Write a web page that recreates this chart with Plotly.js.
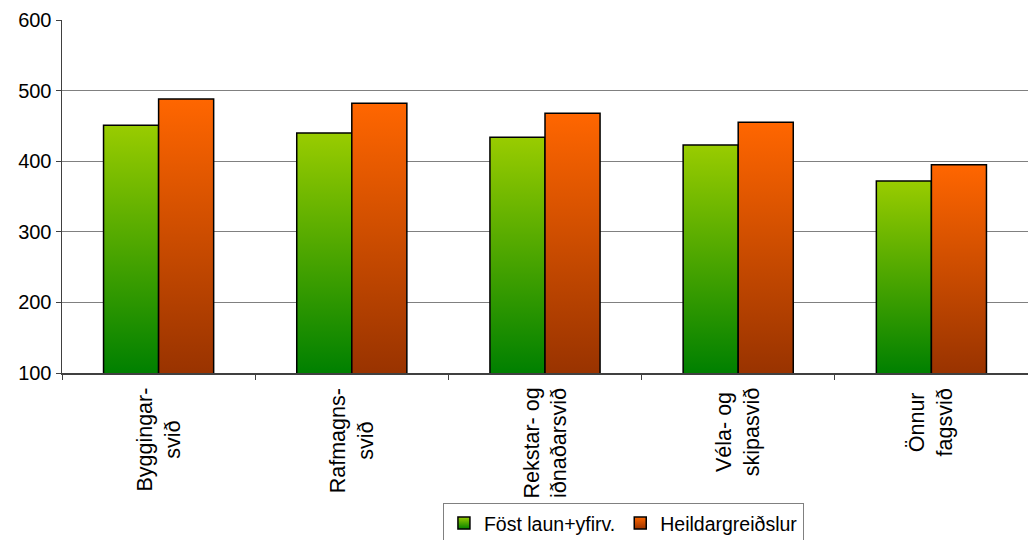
<!DOCTYPE html>
<html>
<head>
<meta charset="utf-8">
<script src="https://cdn.plot.ly/plotly-3.0.1.min.js"></script>
<style>html,body{margin:0;padding:0;background:#fff;}#chart{width:1028px;height:540px;}</style>
</head>
<body>
<div id="chart"></div>
<script>
const categories = ["Byggingarsvið", "Rafmagnssvið", "Rekstar- og iðnaðarsvið", "Véla- og skipasvið", "Önnur fagsvið"];
const categoryLabels = ["Byggingar-<br>svið", "Rafmagns-<br>svið", "Rekstar- og<br>iðnaðarsvið", "Véla- og<br>skipasvið", "Önnur<br>fagsvið"];
const seriesNames = ["Föst laun+yfirv.", "Heildargreiðslur"];
const fostLaun = [451, 440, 434, 423, 372];
const heildar = [488, 482, 468, 455, 395];
const yTicks = [100, 200, 300, 400, 500, 600];

const FONT = "Liberation Sans, Arial, sans-serif";
const gradients = {
  green: ["#99CC00", "#008000"],
  orange: ["#FF6600", "#993300"]
};

const traces = [
  {type: "bar", name: seriesNames[0], x: categories, y: fostLaun,
   marker: {color: "#4CA600", line: {color: "#000", width: 1.5}}},
  {type: "bar", name: seriesNames[1], x: categories, y: heildar,
   marker: {color: "#CC4D00", line: {color: "#000", width: 1.5}}}
];

const annotations = categories.map((c, i) => ({
  x: c, xref: "x", y: 0, yref: "paper", yshift: -13,
  text: categoryLabels[i], showarrow: false, textangle: -90,
  xanchor: "center", yanchor: "top", align: "center",
  font: {family: FONT, size: 21.5, color: "#000"}
}));

const layout = {
  width: 1028, height: 540,
  margin: {l: 62, r: 0, t: 20, b: 167, autoexpand: false},
  paper_bgcolor: "#fff", plot_bgcolor: "#fff",
  barmode: "group", bargap: 0.43, bargroupgap: 0,
  showlegend: true,
  font: {family: FONT, size: 20, color: "#000"},
  xaxis: {type: "category", showline: true, linecolor: "#404040", linewidth: 1.5,
          ticks: "outside", tickson: "boundaries", ticklen: 5, tickcolor: "#404040",
          showticklabels: false, showgrid: false, zeroline: false, fixedrange: true},
  yaxis: {range: [100, 600], tickvals: yTicks, ticks: "outside", ticklen: 5, tickcolor: "#404040",
          showline: true, linecolor: "#404040", linewidth: 1.5,
          gridcolor: "#808080", gridwidth: 1, zeroline: false,
          tickfont: {family: FONT, size: 20, color: "#000"}},
  legend: {orientation: "h", x: 0.5812, xanchor: "center", y: -0.368, yanchor: "top",
           bordercolor: "#808080", borderwidth: 1, bgcolor: "#fff", itemwidth: 30,
           font: {family: FONT, size: 19.5, color: "#000"}, traceorder: "normal"},
  annotations: annotations
};

function applyGradients(gd) {
  const svg = gd.querySelector("svg.main-svg");
  const ns = "http://www.w3.org/2000/svg";
  let defs = svg.querySelector("defs");
  const h = gd._fullLayout._size.h;
  const keys = ["green", "orange"];
  let n = 0;
  function makeGrad(key, units, y1, y2) {
    const g = document.createElementNS(ns, "linearGradient");
    const id = "grad" + (n++);
    g.setAttribute("id", id);
    g.setAttribute("gradientUnits", units);
    g.setAttribute("x1", 0); g.setAttribute("x2", 0);
    g.setAttribute("y1", y1); g.setAttribute("y2", y2);
    [[0, gradients[key][0]], [1, gradients[key][1]]].forEach(([o, c]) => {
      const s = document.createElementNS(ns, "stop");
      s.setAttribute("offset", o); s.setAttribute("stop-color", c);
      g.appendChild(s);
    });
    defs.appendChild(g);
    return id;
  }
  gd.querySelectorAll(".barlayer .trace.bars").forEach((tr, ti) => {
    tr.querySelectorAll(".point path").forEach(p => {
      const b = p.getBBox();
      const id = makeGrad(keys[ti], "userSpaceOnUse", b.y, Math.min(b.y + b.height, h));
      p.style.fill = "url(#" + id + ")";
    });
  });
  gd.querySelectorAll(".legend .traces").forEach((tr, ti) => {
    tr.querySelectorAll(".legendpoints path").forEach(p => {
      const id = makeGrad(keys[ti], "objectBoundingBox", 0, 1);
      p.style.fill = "url(#" + id + ")";
    });
  });
}

Plotly.newPlot("chart", traces, layout, {displayModeBar: false, staticPlot: true})
  .then(applyGradients);
</script>
</body>
</html>
